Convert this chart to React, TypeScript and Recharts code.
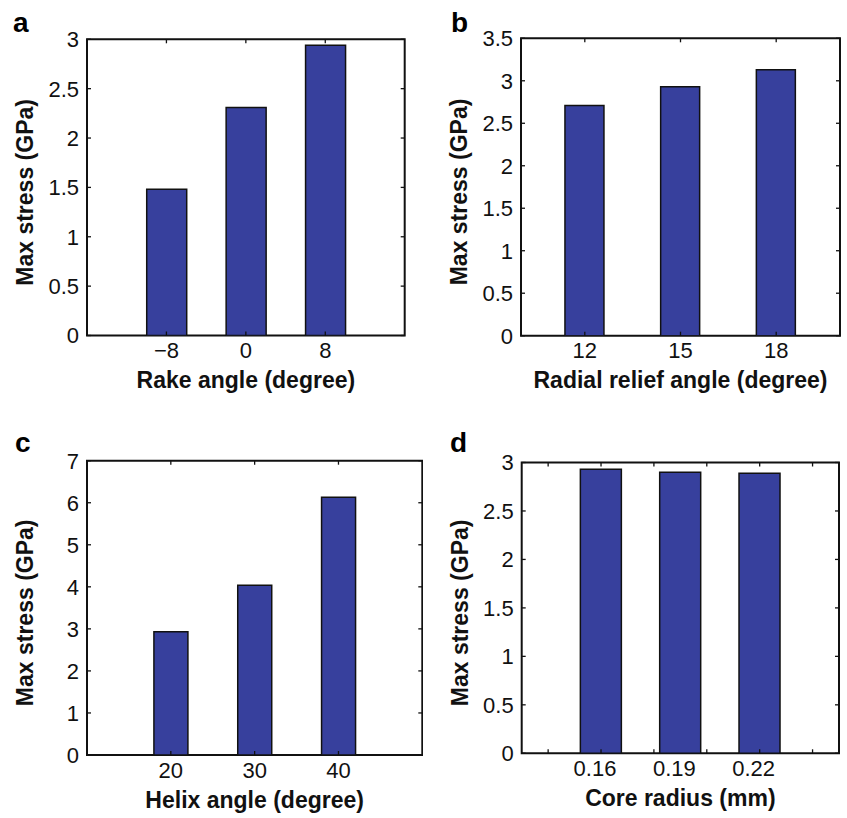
import { BarChart, Bar, XAxis, YAxis, Label, ReferenceArea } from 'recharts';

// values
const rakeAngles = [-8, 0, 8];
const rakeStress = [1.48, 2.31, 2.94];

const reliefAngles = [12, 15, 18];
const reliefStress = [2.71, 2.93, 3.13];

const helixAngles = [20, 30, 40];
const helixStress = [2.93, 4.04, 6.13];

const coreRadii = [0.16, 0.19, 0.22];
const coreStress = [2.93, 2.9, 2.89];
const coreTickMarks = [0.14, 0.16, 0.18, 0.2, 0.22, 0.24];

const stressTicks3 = [0, 0.5, 1, 1.5, 2, 2.5, 3];
const stressTicks35 = [0, 0.5, 1, 1.5, 2, 2.5, 3, 3.5];
const stressTicks7 = [0, 1, 2, 3, 4, 5, 6, 7];

const FONT = '"Liberation Sans", Arial, Helvetica, sans-serif';
const BAR_FILL = '#37409d';
const INK = '#111';
const TICK_LEN = 4;

type Rect = { left: number; top: number; right: number; bottom: number };
type Frame = { left: number; top: number; width: number; height: number };

interface PanelProps {
  xs: number[];
  ys: number[];
  xDomain: [number, number];
  xMarks: number[];
  xLabels: number[];
  labelShift?: number;
  yDomain: [number, number];
  yTicks: number[];
  xTitle: string;
  frame: Frame;
  box: Rect;
  barSize: number;
}

const fmt = (v: number) => (v < 0 ? `\u2212${Math.abs(v)}` : String(v));

function Panel({ xs, ys, xDomain, xMarks, xLabels, labelShift = 0, yDomain, yTicks, xTitle, frame, box, barSize }: PanelProps) {
  const data = xs.map((x, i) => ({ x, stress: ys[i] }));
  const yAxisWidth = box.left - frame.left;
  const xAxisHeight = frame.top + frame.height - box.bottom;
  const margin = { top: box.top - frame.top, right: frame.left + frame.width - box.right, left: 0, bottom: 0 };
  const allXTicks = Array.from(new Set([...xMarks, ...xLabels])).sort((a, b) => a - b);

  // plot edges in chart coordinates
  const pTop = box.top - frame.top;
  const pBottom = box.bottom - frame.top;
  const pLeft = box.left - frame.left;
  const pRight = box.right - frame.left;

  // inward tick marks on all four sides, MATLAB style
  const BottomTick = ({ x, payload }: any) => (
    <g>
      {xMarks.includes(payload.value) && (
        <>
          <line x1={x} y1={pBottom} x2={x} y2={pBottom - TICK_LEN} stroke={INK} strokeWidth={1.3} />
          <line x1={x} y1={pTop} x2={x} y2={pTop + TICK_LEN} stroke={INK} strokeWidth={1.3} />
        </>
      )}
      {xLabels.includes(payload.value) && (
        <text x={x + labelShift} y={pBottom + 22.5} textAnchor="middle" fontFamily={FONT} fontSize={22} fill={INK}>
          {fmt(payload.value)}
        </text>
      )}
    </g>
  );
  const LeftTick = ({ y, payload }: any) => (
    <g>
      <line x1={pLeft} y1={y} x2={pLeft + TICK_LEN} y2={y} stroke={INK} strokeWidth={1.3} />
      <line x1={pRight} y1={y} x2={pRight - TICK_LEN} y2={y} stroke={INK} strokeWidth={1.3} />
      <text x={pLeft - 8} y={y} dy="0.36em" textAnchor="end" fontFamily={FONT} fontSize={22} fill={INK}>
        {fmt(payload.value)}
      </text>
    </g>
  );

  const yTitle = () => {
    const cx = pLeft - 62;
    const cy = (pTop + pBottom) / 2 + 5;
    return (
      <text x={cx} y={cy} transform={`rotate(-90 ${cx} ${cy})`} textAnchor="middle" dy="0.36em"
        fontFamily={FONT} fontSize={23} fontWeight="bold" fill={INK}>
        Max stress (GPa)
      </text>
    );
  };
  const xTitleEl = () => (
    <text x={(pLeft + pRight) / 2} y={pBottom + 52.5} textAnchor="middle"
      fontFamily={FONT} fontSize={23} fontWeight="bold" fill={INK}>
      {xTitle}
    </text>
  );

  return (
    <div style={{ position: 'absolute', left: frame.left, top: frame.top }}>
      <BarChart width={frame.width} height={frame.height} data={data} margin={margin}>
        <XAxis dataKey="x" type="number" domain={xDomain} allowDataOverflow ticks={allXTicks} interval={0}
          height={xAxisHeight} tickSize={0} tickMargin={0} tick={<BottomTick />} axisLine={false} tickLine={false}>
          <Label content={xTitleEl} />
        </XAxis>
        <YAxis type="number" domain={yDomain} allowDataOverflow ticks={yTicks} interval={0}
          width={yAxisWidth} tickSize={0} tickMargin={0} tick={<LeftTick />} axisLine={false} tickLine={false}>
          <Label content={yTitle} />
        </YAxis>
        <Bar dataKey="stress" fill={BAR_FILL} stroke={INK} strokeWidth={1.5} barSize={barSize} isAnimationActive={false} />
        {/* box around the plot */}
        <ReferenceArea x1={xDomain[0]} x2={xDomain[1]} y1={yDomain[0]} y2={yDomain[1]}
          fill="none" fillOpacity={0} stroke={INK} strokeWidth={2} ifOverflow="visible" />
      </BarChart>
    </div>
  );
}

const letters = [
  { t: 'a', x: 13, y: 32 },
  { t: 'b', x: 451, y: 32 },
  { t: 'c', x: 15, y: 452 },
  { t: 'd', x: 450, y: 452 },
];

export default function App() {
  return (
    <div style={{ position: 'absolute', left: 0, top: 0, width: 847, height: 818, background: '#fff' }}>
      <Panel xs={rakeAngles} ys={rakeStress} xDomain={[-16, 16]} xMarks={rakeAngles} xLabels={rakeAngles}
        yDomain={[0, 3]} yTicks={stressTicks3} xTitle="Rake angle (degree)" barSize={40}
        frame={{ left: 0, top: 0, width: 423, height: 400 }}
        box={{ left: 87, top: 39.3, right: 404.7, bottom: 335.5 }} />
      <Panel xs={reliefAngles} ys={reliefStress} xDomain={[10, 20]} xMarks={reliefAngles} xLabels={reliefAngles}
        yDomain={[0, 3.5]} yTicks={stressTicks35} xTitle="Radial relief angle (degree)" barSize={39}
        frame={{ left: 423, top: 0, width: 424, height: 400 }}
        box={{ left: 521, top: 38.3, right: 840, bottom: 335.7 }} />
      <Panel xs={helixAngles} ys={helixStress} xDomain={[10, 50]} xMarks={helixAngles} xLabels={helixAngles}
        yDomain={[0, 7]} yTicks={stressTicks7} xTitle="Helix angle (degree)" barSize={34}
        frame={{ left: 0, top: 400, width: 423, height: 418 }}
        box={{ left: 87, top: 460.7, right: 422.3, bottom: 755 }} />
      <Panel xs={coreRadii} ys={coreStress} xDomain={[0.13, 0.25]} xMarks={coreTickMarks} xLabels={coreRadii}
        labelShift={-6} yDomain={[0, 3]} yTicks={stressTicks3} xTitle="Core radius (mm)" barSize={41}
        frame={{ left: 423, top: 400, width: 424, height: 418 }}
        box={{ left: 521.7, top: 462.5, right: 839, bottom: 753.3 }} />
      <svg width={847} height={818} style={{ position: 'absolute', left: 0, top: 0, pointerEvents: 'none' }}>
        {letters.map((l) => (
          <text key={l.t} x={l.x} y={l.y} fontFamily={FONT} fontSize={28} fontWeight="bold" fill="#000">
            {l.t}
          </text>
        ))}
      </svg>
    </div>
  );
}
